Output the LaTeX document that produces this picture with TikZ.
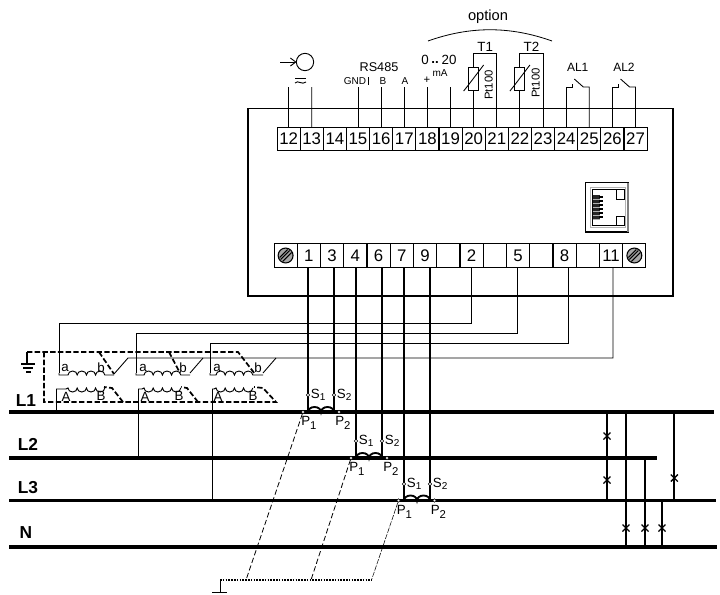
\documentclass[tikz,border=0pt]{standalone}
\usepackage{fontspec}
\setmainfont{Liberation Sans}
\usetikzlibrary{arrows.meta,calc}
\newcommand{\fs}[1]{\fontsize{#1}{#1}\selectfont}
\newcommand{\pinidx}[1]{{\fs{7.5}\raisebox{-1.5pt}{#1}}}
\newcommand{\phaseidx}[1]{{\fs{8.5}\raisebox{-3pt}{#1}}}

\begin{document}
\begin{tikzpicture}[x=0.75pt,y=-0.75pt,
    cell/.style={draw, line width=0.7pt, minimum width=17.4pt, minimum height=17.6pt, inner sep=0pt, font=\fs{12.6}},
    busbar/.style={line width=2.7pt},
    leadwire/.style={line width=1.5pt},
    signal/.style={line width=0.65pt},
    screen/.style={line width=1.3pt, dash pattern=on 4pt off 1.8pt},
    earthdash/.style={line width=0.6pt, dash pattern=on 4pt off 2pt},
    pin/.style={circle, draw, fill=white, line width=0.4pt, minimum size=2.6pt, inner sep=0pt},
    small/.style={inner sep=0pt, font=\fs{7.5}},
    mid/.style={inner sep=0pt, font=\fs{10}},
    phasename/.style={inner sep=0pt, font=\fs{13}\bfseries}]
    \useasboundingbox (0,0) rectangle (720,594);

    % housing
    \draw[line width=0.8pt] (248,108.5) rectangle (673,296);

    % upper terminal row
    \foreach \n [count=\i from 0] in {12,13,...,27}
        \node[cell] (t\n) at ({288.6+23.13*\i},139) {\n};

    % lower terminal row
    \foreach \n/\i in {scl/0,1/1,3/2,4/3,6/4,7/5,9/6,e1/7,2/8,e2/9,5/10,e3/11,8/12,e4/13,11/14,scr/15}
        \node[cell] (b\n) at ({285.6+23.25*\i},255.5) {};
    \foreach \n in {1,3,4,6,7,9,2,5,8,11}
        \node[inner sep=0pt, font=\fs{12.6}] at (b\n) {\n};

    % screws
    \foreach \n in {scl,scr} {
        \fill[gray!70] (b\n) circle (5.6pt);
        \draw[line width=0.8pt] (b\n) circle (5.6pt);
        \draw[line width=0.8pt] ([shift={(-5,4)}]b\n.center) -- ([shift={(4,-5)}]b\n.center);
        \draw[line width=0.8pt] ([shift={(-3,6)}]b\n.center) -- ([shift={(6,-3)}]b\n.center);
        \draw[line width=0.8pt] ([shift={(-6,2)}]b\n.center) -- ([shift={(2,-6)}]b\n.center);
    }

    % ethernet socket
    \draw[line width=0.8pt] (585.5,182.5) rectangle (628.5,232);
    \draw[gray, line width=1.4pt] (628,182.5) -- (628,232);
    \draw[gray!60, line width=0.4pt] (590.5,187.5) rectangle (625.5,227);
    \draw[line width=0.7pt] (592,189.5) -- (624,189.5) -- (624,199.5) -- (616,199.5) -- (616,189.5);
    \draw[line width=0.7pt] (592,225.5) -- (624,225.5) -- (624,216) -- (616,216) -- (616,225.5);
    \draw[line width=0.7pt] (592,189.5) -- (592,225.5);
    \fill[black!85] (592.5,195) rectangle (600,219);
    \foreach \y in {197,201,...,217} {
        \draw[line width=0.9pt] (599,\y) -- (603,\y);
        \draw[gray!60, line width=0.4pt] (592.5,\y+2) -- (600,\y+2);
    }

    % power supply
    \coordinate (pw12) at (288.6,87);
    \coordinate (pw13) at (311.7,87);
    \draw[signal] (t12) -- (pw12);
    \draw[signal] (t13) -- (pw13);
    \draw[line width=0.7pt] (305,62) circle (6.5pt);
    \draw[line width=0.7pt, -{Straight Barb[length=4pt,width=6pt]}] (280,62) -- (296.5,62);
    \draw[line width=0.7pt] (295,78) -- (306,78);
    \draw[line width=0.7pt] (295,83) .. controls (298,79.5) and (302,85.5) .. (306,82);

    % RS485 and current output
    \foreach \n in {15,16,17,18,19} {
        \coordinate (lead\n) at (t\n |- 0,87);
        \draw[signal] (t\n) -- (lead\n);
    }
    \node[small] (gnd) at (355,81) {GND};
    \draw[signal] (368,77) -- (368,85);
    \node[small] (rsb) at (383,81) {B};
    \node[small] (rsa) at (405,81) {A};
    \node[small, font=\fs{8.5}] (plus) at (427,80) {+};
    \node[mid, font=\fs{9.5}] (rs) at (379,67) {RS485};
    \node[mid] (zero) at (425,60) {0};
    \node[mid, font=\fs{10}\bfseries] (dots) at (435,63) {..};
    \node[mid] (twenty) at (449,60) {20};
    \node[small] (ma) at (440,73) {mA};

    % option
    \node[inner sep=0pt, font=\fs{11}] (opt) at (488,17) {option};
    \draw[line width=0.6pt] (428,41) .. controls (470,26) and (510,26) .. (552,41);

    % sensors
    \foreach \a/\b/\lab/\ptx/\pty in {20/21/T1/488.7/85, 22/23/T2/535.7/83} {
        \coordinate (top\a) at (t\a |- 0,53);
        \coordinate (top\b) at (t\b |- 0,53);
        \draw[signal] (t\a) -- (top\a) -- (top\b) -- (t\b);
        \node[mid] at ($(top\a)!0.5!(top\b)+(0,-6)$) {\lab};
        \draw[signal, fill=white] ([shift={(-5,14)}]top\a) rectangle ([shift={(5,37)}]top\a);
        \draw[signal] ([shift={(-10,38)}]top\a) -- ([shift={(-6,33)}]top\a) -- ([shift={(10,12)}]top\a);
        \node[rotate=90, inner sep=0pt, font=\fs{8.5}] at (\ptx,\pty) {Pt100};
    }

    % alarm contacts
    \foreach \a/\b/\lab in {24/25/AL1, 26/27/AL2} {
        \coordinate (al\a) at ([shift={(0,-52)}]t\a.center);
        \coordinate (al\b) at ([shift={(0,-52)}]t\b.center);
        \draw[signal] (t\a) -- (al\a) -- ++(6,0) -- ++(0,-3);
        \draw[signal] (t\b) -- (al\b) -- ++(-6,0) -- ++(-9,-8);
        \node[inner sep=0pt, font=\fs{9}] at ($(al\a)!0.5!(al\b)+(0,-20)$) {\lab};
    }

    % phases
    \coordinate (l1a) at (9,412);
    \coordinate (l1b) at (714,412);
    \coordinate (l2a) at (9,458);
    \coordinate (l2b) at (657,458);
    \coordinate (l3a) at (9,500.5);
    \coordinate (l3b) at (716,500.5);
    \coordinate (na) at (9,547);
    \coordinate (nb) at (717,547);
    \draw[busbar] (l1a) -- (l1b);
    \draw[busbar] (l2a) -- (l2b);
    \draw[busbar] (l3a) -- (l3b);
    \draw[busbar] (na) -- (nb);
    \node[phasename] (nl1) at (26,401) {L1};
    \node[phasename] (nl2) at (28,444) {L2};
    \node[phasename] (nl3) at (28,488) {L3};
    \node[phasename] (nn) at (26,533) {N};

    % current transformers
    \foreach \c/\sa/\sb/\xa/\xb/\sy/\ly/\pa/\pb in {1/1/3/308/334/395/412/303/339, 2/4/6/356/382/441/458/351/387, 3/7/9/404/430/484/500.5/398.5/434.5} {
        \node[pin] (pa\c) at (\pa,\ly) {};
        \node[pin] (pb\c) at (\pb,\ly) {};
        \coordinate (sa\c) at (\xa,\sy);
        \coordinate (sb\c) at (\xb,\sy);
        \draw[leadwire] (b\sa.south -| sa\c) -- (sa\c);
        \draw[leadwire] (b\sb.south -| sb\c) -- (sb\c);
        \draw[line width=1.1pt] (sa\c) -- (\xa,\ly);
        \draw[line width=1.1pt] (sb\c) -- (\xb,\ly);
        \draw[line width=1.4pt] (\xa,\ly) arc[start angle=180, end angle=360, x radius=6.5, y radius=5]
            arc[start angle=180, end angle=360, x radius=6.5, y radius=5];
        \node[pin] at (sa\c) {};
        \node[pin] at (sb\c) {};
        \node[mid, anchor=west] at ([xshift=2]sa\c) {S\pinidx{1}};
        \node[mid, anchor=west] at ([xshift=2]sb\c) {S\pinidx{2}};
        \node[mid, anchor=west] at ([shift={(-2,11)}]pa\c.center) {P\phaseidx{1}};
        \node[mid, anchor=west] at ([shift={(-4,11)}]pb\c.center) {P\phaseidx{2}};
    }

    % common return to earth
    \coordinate (ea) at (246,580);
    \coordinate (eb) at (311,580);
    \coordinate (ec) at (371.5,580);
    \coordinate (ed) at (220,580);
    \coordinate (ee) at (220,592);
    \draw[earthdash] (pa1) -- (ea);
    \draw[earthdash] (pa2) -- (eb);
    \draw[line width=0.4pt, dash pattern=on 4pt off 1pt] (pa3) -- (ec);
    \draw[line width=1.4pt, dash pattern=on 1.2pt off 0.9pt] (ed) -- (ec);
    \draw[line width=0.7pt] (ed) -- (ee);
    \draw[line width=0.7pt] (212,592) -- (227,592);

    % voltage transformer secondaries
    \coordinate (va) at (59,373);
    \coordinate (vb) at (136,373);
    \coordinate (vc) at (210,373);
    \draw[signal] (b2.south -| 471,0) |- (59,323) -- (va);
    \draw[signal] (b5.south -| 517,0) |- (136,333) -- (vb);
    \draw[signal] (b8.south -| 568,0) |- (210,343) -- (vc);
    \draw[signal] (b11.south -| 613,0) |- (128,358) -- (114,374);

    % screen of the transformers
    \coordinate (gd) at (27,352);
    \draw[screen] (gd) -- (238,352) -- (255,374);
    \draw[screen] (99,352) -- (114,374);
    \draw[screen] (169,352) -- (180,373);
    \draw[screen] (44,352) -- (44,402) -- (276,402) -- (263,388) -- (254,387);
    \draw[screen] (123,402) -- (112,388) -- (104,387);
    \draw[screen] (198,402) -- (187,388) -- (181,387);
    \draw[line width=0.8pt] (gd) -- (27,364);
    \draw[line width=0.8pt] (21,364) -- (35,364);
    \draw[line width=0.8pt] (23,368) -- (33,368);
    \draw[line width=0.8pt] (26,372) -- (31,372);
    \draw[signal] (190,373) -- (203,358);
    \draw[signal] (263,373) -- (276,358);

    % windings
    \foreach \x/\vx/\stop/\lax/\lbx/\lAx/\lBx/\ph in {
        68/59/114/65/101/66/101/56,
        144/136/190/143/183/145/179/138,
        216/210/263/217/258/218/253/212} {
        \draw[line width=0.7pt] (\vx,373) -- (\vx,375) -- (\x,375)
            arc[start angle=180, end angle=360, x radius=4.6, y radius=4]
            arc[start angle=180, end angle=360, x radius=4.6, y radius=4]
            arc[start angle=180, end angle=360, x radius=4.6, y radius=4]
            arc[start angle=180, end angle=360, x radius=4.6, y radius=4] -- (\stop,375);
        \draw[line width=0.7pt] (\ph,389) -- (\x-2,389) -- (\x,388)
            arc[start angle=180, end angle=0, x radius=4.6, y radius=4]
            arc[start angle=180, end angle=0, x radius=4.6, y radius=4]
            arc[start angle=180, end angle=0, x radius=4.6, y radius=4]
            arc[start angle=180, end angle=0, x radius=4.6, y radius=4];
        \node[mid] at (\lax,368) {a};
        \node[mid] at (\lbx,368) {b};
        \node[mid] at (\lAx,397) {A};
        \node[mid] at (\lBx,396) {B};
    }
    \draw[signal] (56,389) -- (56,412);
    \draw[signal] (138,389) -- (138,458);
    \draw[signal] (212,389) -- (212,500.5);

    % voltage limit taps
    \foreach \x/\ya/\yb in {607/412/500.5, 626/412/547, 645/458/547, 662/500.5/547, 674.3/412/500.5}
        \draw[line width=1.5pt] (\x,\ya) -- (\x,\yb);
    \foreach \x/\y in {607/436, 607/480, 626/528, 645/528, 662/528, 674.3/478} {
        \draw[line width=1pt] (\x-3.5,\y-3.5) -- (\x+3.5,\y+3.5);
        \draw[line width=1pt] (\x-3.5,\y+3.5) -- (\x+3.5,\y-3.5);
    }
\end{tikzpicture}
\end{document}
